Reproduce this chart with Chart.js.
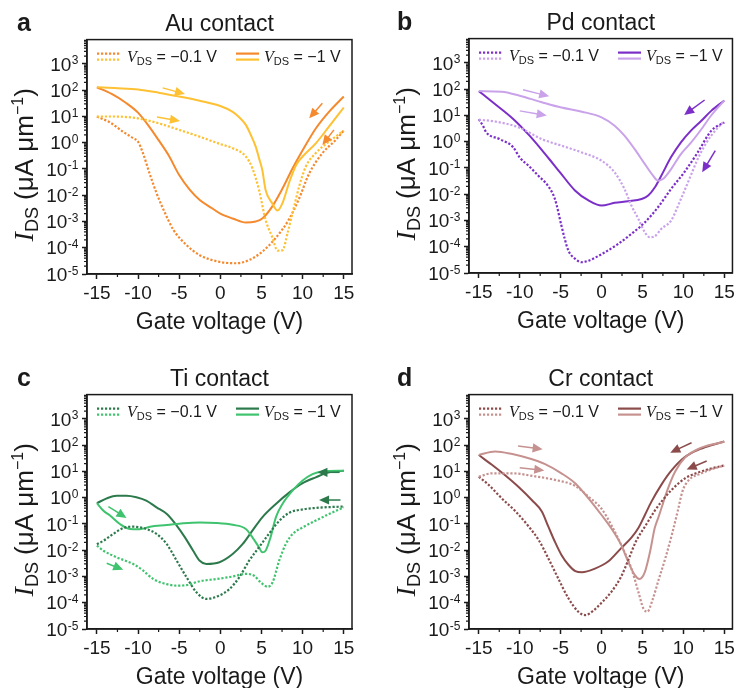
<!DOCTYPE html>
<html><head><meta charset="utf-8">
<script src="https://cdn.jsdelivr.net/npm/chart.js@4.4.1/dist/chart.umd.min.js"></script>
<style>
html,body{margin:0;padding:0;background:#fff}
body{width:738px;height:688px;overflow:hidden;position:relative}
.p{position:absolute;width:369px;height:344px}
canvas{display:block}
</style></head><body>
<div class="p" style="left:0;top:0"><canvas id="ca" width="369" height="344"></canvas></div>
<div class="p" style="left:369px;top:0"><canvas id="cb" width="369" height="344"></canvas></div>
<div class="p" style="left:0;top:344px"><canvas id="cc" width="369" height="344"></canvas></div>
<div class="p" style="left:369px;top:344px"><canvas id="cd" width="369" height="344"></canvas></div>
<script>
// ---------- axes ----------
const xTicks = [-15, -10, -5, 0, 5, 10, 15];
const xMinorTicks = [-12.5, -7.5, -2.5, 2.5, 7.5, 12.5];
const yTicks = [1e-5, 1e-4, 1e-3, 1e-2, 1e-1, 1, 10, 100, 1000];
const yTickExp = ['-5', '-4', '-3', '-2', '-1', '0', '1', '2', '3'];
const X_MIN = -16.2, X_MAX = 16, Y_MIN = 1e-5, Y_MAX = 8500;
const xTitle = 'Gate voltage (V)';
const legendLabels = [' = \u22120.1 V', ' = \u22121 V'];

// ---------- a: Au contact ----------
const auSolLightX = [-15,-12.5,-10,-7.5,-5,-2.5,0,1.5,2.3,3.1,3.7,4.3,4.7,5.1,5.5,6.3,6.95,7.55,8.4,9.2,10,11.6,13.2,15];
const auSolLightY = [130,120,107,81,58,40,25,15,9.3,4.8,2.0,0.71,0.26,0.091,0.016,0.005,0.0026,0.005,0.033,0.14,0.30,0.95,4.1,22];
const auSolDarkX = [-15,-13.2,-11.4,-10,-8.8,-7.5,-6.3,-5,-3.7,-2.5,-1,0,1.5,3.1,4.3,5.1,6.3,7.55,8.8,10,11.6,13.2,15];
const auSolDarkY = [130,72,32,14,4.8,1.26,0.34,0.059,0.016,0.0066,0.0032,0.0020,0.0013,0.00091,0.001,0.0013,0.0037,0.018,0.11,0.52,3.5,15,58];
const auDotLightX = [-15,-13,-10,-7.5,-5,-2.5,0,1.5,3.1,3.9,4.7,5.5,6.3,6.95,7.55,8.2,8.76,9.57,10.37,11.58,13.2,15];
const auDotLightY = [10,10,8.5,5.5,3.1,1.7,0.89,0.62,0.30,0.107,0.016,0.00115,0.00026,0.000078,0.00008,0.0004,0.002,0.021,0.12,0.40,1.1,2.9];
const auDotDarkX = [-15,-13.4,-11.8,-10.6,-10,-9.4,-8.6,-7.75,-6.9,-5.7,-4.1,-2.5,-0.2,1.9,3.5,5.1,6.7,8.3,9.5,10.8,12.4,14,15];
const auDotDarkY = [10,5.9,2.6,1.5,1.1,0.40,0.068,0.012,0.0028,0.00048,0.000126,0.000052,0.0000295,0.0000257,0.000034,0.000071,0.00023,0.00115,0.0066,0.068,0.40,1.26,2.9];
const auArrows = [[-7.0,123,-4.3,72,'L'],[-7.7,9.5,-4.9,6.8,'L'],[12.4,32,10.8,8.5,'D'],[13.8,3.1,12.4,0.82,'D']];

// ---------- b: Pd contact ----------
const pdSolLightX = [-15,-12.2,-10.1,-7.3,-4.9,-2.4,0,1.6,2.8,4.05,5.3,6.3,6.9,7.5,8.5,9.7,10.9,12.2,13.4,15];
const pdSolLightY = [85,81,58,32,20,14,8.5,4.1,1.7,0.52,0.14,0.051,0.033,0.038,0.091,0.34,0.9,3.0,10,37];
const pdSolDarkX = [-15,-13.3,-10.8,-8.8,-6.4,-5.1,-3.25,-1.6,0,1.6,3.25,4.9,5.7,6.5,7.3,8.5,9.7,10.9,12.2,13.4,15];
const pdSolDarkY = [85,32,7.4,1.7,0.22,0.07,0.014,0.0058,0.0037,0.0047,0.0054,0.0066,0.0089,0.018,0.051,0.26,0.95,2.6,6.3,15,37];
const pdDotLightX = [-15,-13,-10.1,-7.3,-4.9,-2.4,0,1.6,2.8,3.65,4.5,5.3,5.9,6.5,7.3,8.5,9.7,10.9,11.75,12.6,13.4,15];
const pdDotLightY = [6.9,5.9,3.5,1.26,0.71,0.39,0.19,0.068,0.016,0.0037,0.00115,0.00035,0.00023,0.00025,0.00048,0.001,0.0066,0.051,0.22,0.71,1.7,6.3];
const pdDotDarkX = [-15,-14.5,-14.1,-12.45,-10.8,-10,-8.9,-7.7,-6.5,-5.7,-4.9,-4.5,-4.05,-3.2,-2.4,-1.6,0,2.0,3.65,5.3,6.9,8.5,10.1,11.75,13.4,15];
const pdDotDarkY = [7.2,4.1,2.3,1.26,0.62,0.25,0.12,0.05,0.02,0.0066,0.00063,0.0002,0.000071,0.000034,0.0000257,0.0000295,0.000052,0.000126,0.00031,0.00085,0.0032,0.016,0.068,0.39,2.6,5.5];
const pdArrows = [[-9.6,95,-6.4,54,'L'],[-10.0,15,-6.7,10,'L'],[12.6,39,10.1,10.5,'D'],[13.9,0.46,12.3,0.069,'D']];

// ---------- c: Ti contact ----------
const tiSolDarkX = [-15,-13.8,-12.6,-11.4,-10.2,-9,-7.75,-6.5,-5.3,-4.3,-3.3,-2.5,-1.7,-0.1,1.5,2.7,3.9,5.1,6.75,8.4,10,11.6,13.2,15];
const tiSolDarkY = [0.62,0.95,1.2,1.2,1.05,0.78,0.43,0.24,0.087,0.031,0.0096,0.004,0.003,0.0035,0.0072,0.017,0.056,0.18,0.58,1.6,3.6,6.0,9.3,10.7];
const tiSolLightX = [-15,-14.2,-13.4,-12.2,-11,-9.8,-8.55,-6.5,-4.5,-2.5,-0.5,1.5,3.1,3.9,4.7,5.1,5.5,6.1,6.75,7.55,8.8,10,11.2,12.4,15];
const tiSolLightY = [0.62,0.32,0.21,0.1,0.065,0.063,0.079,0.091,0.107,0.115,0.11,0.093,0.065,0.031,0.013,0.0083,0.0096,0.031,0.18,0.58,1.9,4.5,7.9,10,10.7];
const tiDotDarkX = [-15,-14.2,-13,-11.8,-10.6,-9,-7.75,-6.5,-5.3,-4.1,-2.9,-1.7,-0.1,1.1,2.3,3.5,4.7,5.9,7.15,8.4,10,11.6,13.2,15];
const tiDotDarkY = [0.017,0.023,0.042,0.07,0.079,0.065,0.042,0.017,0.004,0.00093,0.00025,0.00014,0.00019,0.00033,0.00093,0.004,0.013,0.042,0.13,0.27,0.36,0.41,0.44,0.46];
const tiDotLightX = [-15,-14.2,-12.6,-10.6,-9.4,-8.15,-6.5,-5.3,-4.1,-2.5,-0.5,1.5,3.1,4.1,4.9,5.75,6.35,7.15,7.95,8.8,10,11.6,13.2,15];
const tiDotLightY = [0.015,0.0096,0.0054,0.003,0.0017,0.0008,0.00051,0.00045,0.00047,0.00066,0.0008,0.001,0.00126,0.00107,0.0006,0.00041,0.0006,0.004,0.017,0.042,0.074,0.135,0.24,0.43];
const tiArrows = [[-13.6,0.46,-11.4,0.17,'L'],[-13.8,0.0032,-11.8,0.0018,'L'],[14.5,9.3,11.8,9.3,'D'],[14.6,0.82,12.0,0.82,'D']];

// ---------- d: Cr contact ----------
const crSolLightX = [-15,-13,-10.9,-8.9,-6.9,-4.9,-3.2,-1.6,0,1.2,2.4,3.25,4.05,4.65,5.3,5.9,6.5,7.0,7.5,8.0,9.0,10.2,12.2,15];
const crSolLightY = [43,58,46,32,19,8.5,3.5,0.95,0.22,0.068,0.016,0.0037,0.00115,0.0008,0.0015,0.008,0.07,0.2,0.6,1.8,10,34,81,135];
const crSolDarkX = [-15,-14.6,-13.4,-11.75,-10.1,-8.5,-7.3,-6.5,-5.7,-4.9,-4.05,-3.2,-2.4,-0.8,0.8,2.4,3.65,4.5,5.3,6.1,7.3,8.5,10.1,11.75,13.4,15];
const crSolDarkY = [43,34,18,7,2.5,0.8,0.30,0.079,0.021,0.0066,0.0028,0.0016,0.00145,0.002,0.0037,0.012,0.03,0.07,0.22,0.71,3.1,10.5,34,66,100,138];
const crDotLightX = [-15,-13.4,-10.9,-8.1,-5.7,-3.2,-1.6,0,1.2,2.4,3.65,4.5,5.1,5.6,6.2,7.0,7.8,8.6,9.3,9.9,10.6,12.2,13.4,15];
const crDotLightY = [6.3,8.5,8.5,6.5,4.8,2.8,1.1,0.38,0.091,0.016,0.002,0.00026,0.000062,0.000046,0.00012,0.0008,0.005,0.04,0.3,1.8,4.5,8.5,12,17];
const crDotDarkX = [-15,-13.8,-12.2,-10.5,-8.9,-7.7,-6.5,-5.3,-4.05,-2.85,-2.0,-1.0,0,1.2,2.4,3.3,4.15,5.5,6.5,7.4,8.5,10.2,11.75,13.4,15];
const crDotDarkY = [6.3,3.1,0.95,0.30,0.08,0.025,0.0049,0.00085,0.000148,0.000046,0.000034,0.00005,0.0001,0.00026,0.001,0.0045,0.02,0.1,0.32,0.76,1.9,5.5,9,13,17];
const crArrows = [[-10.2,94,-7.2,71,'L'],[-10.0,14,-7.0,11,'L'],[11.0,125,8.4,52,'D'],[12.85,25,10.4,12,'D']];

// ---------- style ----------
const FONT = '"Liberation Sans", Arial, Helvetica, sans-serif';
const SERIF = '"Liberation Serif", "Times New Roman", serif';
const INK = '#1a1a1a';
const DOT = [2.2, 1.8];

const panels = [
  {id:'ca', letter:'a', title:'Au contact', dark:'#F5892E', light:'#FEC133', yW:87, padR:17, xH:70, padT:39.6, letterX:17,
   c:[auDotLightX,auDotLightY,auDotDarkX,auDotDarkY,auSolLightX,auSolLightY,auSolDarkX,auSolDarkY], arrows:auArrows},
  {id:'cb', letter:'b', title:'Pd contact', dark:'#7B2FC8', light:'#C9A2EA', yW:100, padR:5, xH:71, padT:38.6, letterX:28,
   c:[pdDotLightX,pdDotLightY,pdDotDarkX,pdDotDarkY,pdSolLightX,pdSolLightY,pdSolDarkX,pdSolDarkY], arrows:pdArrows},
  {id:'cc', letter:'c', title:'Ti contact', dark:'#2C7A4C', light:'#3FC36E', yW:87, padR:17, xH:59, padT:50.6, letterX:17,
   c:[tiDotLightX,tiDotLightY,tiDotDarkX,tiDotDarkY,tiSolLightX,tiSolLightY,tiSolDarkX,tiSolDarkY], arrows:tiArrows},
  {id:'cd', letter:'d', title:'Cr contact', dark:'#8B4B4B', light:'#C69290', yW:100, padR:5, xH:59, padT:50.6, letterX:28,
   c:[crDotLightX,crDotLightY,crDotDarkX,crDotDarkY,crSolLightX,crSolLightY,crSolDarkX,crSolDarkY], arrows:crArrows}
];

function pts(xs, ys){ return xs.map((x,i)=>({x:x, y:ys[i]})); }

function richText(ctx, runs, x, y, align){
  let w = 0;
  runs.forEach(r=>{ ctx.font = r.font; r.w = ctx.measureText(r.t).width; w += r.w; });
  let cx = align === 'center' ? x - w/2 : x;
  ctx.textAlign = 'left'; ctx.textBaseline = 'alphabetic';
  runs.forEach(r=>{ ctx.font = r.font; ctx.fillText(r.t, cx, y + (r.dy||0)); cx += r.w; });
  return w;
}

function drawArrow(ctx, x1, y1, x2, y2, color){
  const ang = Math.atan2(y2-y1, x2-x1), hl = 10, hw = 4.6;
  const bx = x2 - hl*Math.cos(ang), by = y2 - hl*Math.sin(ang);
  ctx.strokeStyle = color; ctx.lineWidth = 1.5; ctx.setLineDash([]);
  ctx.beginPath(); ctx.moveTo(x1, y1); ctx.lineTo(bx + Math.cos(ang), by + Math.sin(ang)); ctx.stroke();
  ctx.fillStyle = color; ctx.beginPath();
  ctx.moveTo(x2, y2);
  ctx.lineTo(bx + hw*Math.sin(ang), by - hw*Math.cos(ang));
  ctx.lineTo(bx - hw*Math.sin(ang), by + hw*Math.cos(ang));
  ctx.closePath(); ctx.fill();
}

function makeDeco(P){
  return {
    id: 'deco' + P.letter,
    afterDraw(chart){
      const ctx = chart.ctx, a = chart.chartArea, xs = chart.scales.x, ys = chart.scales.y;
      ctx.save();
      // frame
      ctx.setLineDash([]);
      ctx.strokeStyle = INK; ctx.lineWidth = 1.5;
      ctx.strokeRect(a.left, a.top, a.right - a.left, a.bottom - a.top);
      // minor ticks
      ctx.lineWidth = 1.2;
      ctx.beginPath();
      xMinorTicks.forEach(v=>{ const px = xs.getPixelForValue(v); ctx.moveTo(px, a.bottom); ctx.lineTo(px, a.bottom + 3); });
      for (let e = -5; e <= 3; e++) {
        for (let m = 2; m <= 9; m++) {
          const v = m * Math.pow(10, e);
          if (v > Y_MAX) continue;
          const py = ys.getPixelForValue(v);
          ctx.moveTo(a.left, py); ctx.lineTo(a.left - 3, py);
        }
      }
      ctx.stroke();
      // y tick labels 10^n
      ctx.fillStyle = INK;
      yTicks.forEach((v, i)=>{
        const py = ys.getPixelForValue(v);
        ctx.font = '12px ' + FONT; ctx.textAlign = 'right'; ctx.textBaseline = 'alphabetic';
        const ex = a.left - 8.5;
        ctx.fillText(yTickExp[i], ex, py + 0.5);
        const ew = ctx.measureText(yTickExp[i]).width;
        ctx.font = '19px ' + FONT; ctx.textBaseline = 'middle';
        ctx.fillText('10', ex - ew - 0.5, py + 1.5);
      });
      // x title
      ctx.font = '23px ' + FONT; ctx.textAlign = 'center'; ctx.textBaseline = 'alphabetic';
      ctx.fillText(xTitle, (a.left + a.right)/2, a.bottom + 55);
      // y title (rotated)
      ctx.save();
      ctx.translate(a.left - 54, (a.top + a.bottom)/2 + 8);
      ctx.rotate(-Math.PI/2);
      richText(ctx, [
        {t:'I', font:'italic 28px ' + SERIF},
        {t:'DS', font:'18px ' + FONT, dy:5},
        {t:' (\u03bcA \u03bcm', font:'26px ' + FONT},
        {t:'\u22121', font:'16px ' + FONT, dy:-10},
        {t:')', font:'26px ' + FONT}
      ], 0, 0, 'center');
      ctx.restore();
      // panel letter and title
      ctx.font = 'bold 25px ' + FONT; ctx.textAlign = 'left';
      ctx.fillText(P.letter, P.letterX, a.top - 9);
      ctx.font = '23px ' + FONT; ctx.textAlign = 'center';
      ctx.fillText(P.title, (a.left + a.right)/2, a.top - 9);
      // legend
      const L = a.left, T = a.top;
      const sample = (x0, x1, dashed)=>{
        ctx.lineWidth = 2.2; ctx.setLineDash(dashed ? DOT : []);
        ctx.strokeStyle = P.dark; ctx.beginPath(); ctx.moveTo(x0, T + 14); ctx.lineTo(x1, T + 14); ctx.stroke();
        ctx.strokeStyle = P.light; ctx.beginPath(); ctx.moveTo(x0, T + 20); ctx.lineTo(x1, T + 20); ctx.stroke();
        ctx.setLineDash([]);
      };
      sample(L + 10, L + 33, true);
      sample(L + 149, L + 172, false);
      ctx.fillStyle = INK;
      [[L + 40, 0], [L + 177, 1]].forEach(([x, k])=>{
        richText(ctx, [
          {t:'V', font:'italic 16px ' + SERIF},
          {t:'DS', font:'11px ' + FONT, dy:3},
          {t:legendLabels[k], font:'16px ' + FONT}
        ], x, T + 22, 'left');
      });
      // arrows
      P.arrows.forEach(ar=>{
        drawArrow(ctx, xs.getPixelForValue(ar[0]), ys.getPixelForValue(ar[1]),
                       xs.getPixelForValue(ar[2]), ys.getPixelForValue(ar[3]),
                       ar[4] === 'L' ? P.light : P.dark);
      });
      ctx.restore();
    }
  };
}

panels.forEach(P=>{
  const c = P.c;
  const ds = (xs, ys, color, dashed)=>({
    data: pts(xs, ys), borderColor: color, backgroundColor: color,
    borderWidth: dashed ? 2.2 : 2, borderDash: dashed ? DOT : [], pointRadius: 0,
    cubicInterpolationMode: 'monotone', fill: false
  });
  new Chart(document.getElementById(P.id), {
    type: 'line',
    data: { datasets: [
      ds(c[0], c[1], P.light, true),
      ds(c[2], c[3], P.dark, true),
      ds(c[4], c[5], P.light, false),
      ds(c[6], c[7], P.dark, false)
    ]},
    options: {
      responsive: false, animation: false, devicePixelRatio: 1,
      layout: { padding: { left: 0, right: P.padR, top: P.padT, bottom: 0 } },
      plugins: { legend: { display: false }, tooltip: { enabled: false }, title: { display: false } },
      scales: {
        x: {
          type: 'linear', min: X_MIN, max: X_MAX,
          afterFit(s){ s.height = P.xH; },
          afterBuildTicks(s){ s.ticks = xTicks.map(v=>({value: v})); },
          ticks: { autoSkip: false, maxRotation: 0, padding: 3, color: INK,
                   font: { family: FONT, size: 19 }, callback: v => String(v) },
          grid: { drawOnChartArea: false, drawTicks: true, tickLength: 5, tickColor: INK, tickWidth: 1.5 },
          border: { display: true, color: INK, width: 1.5 }
        },
        y: {
          type: 'logarithmic', min: Y_MIN, max: Y_MAX,
          afterFit(s){ s.width = P.yW; },
          afterBuildTicks(s){ s.ticks = yTicks.map(v=>({value: v})); },
          ticks: { autoSkip: false, callback: () => '' },
          grid: { drawOnChartArea: false, drawTicks: true, tickLength: 5, tickColor: INK, tickWidth: 1.5 },
          border: { display: true, color: INK, width: 1.5 }
        }
      }
    },
    plugins: [makeDeco(P)]
  });
});
</script>
</body></html>
